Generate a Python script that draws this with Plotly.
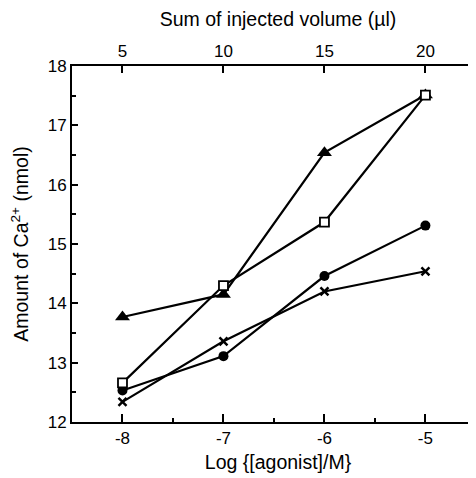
import plotly.graph_objects as go

log_conc = [-8, -7, -6, -5]
volume = [5, 10, 15, 20]
circle_vals = [12.53, 13.11, 14.46, 15.31]
cross_vals = [12.34, 13.36, 14.20, 14.54]
triangle_vals = [13.77, 14.15, 16.54, 17.51]
square_vals = [12.66, 14.30, 15.37, 17.51]

FONT = "Liberation Sans, Arial, Helvetica, sans-serif"
LW = 2.2
TICK = 17
TITLE = 19.5

fig = go.Figure()

fig.add_trace(go.Scatter(x=log_conc, y=circle_vals, mode="lines+markers",
                         line=dict(color="black", width=LW),
                         marker=dict(symbol="circle", size=10, color="black"),
                         showlegend=False))
fig.add_trace(go.Scatter(x=log_conc, y=cross_vals, mode="lines+markers",
                         line=dict(color="black", width=LW),
                         marker=dict(symbol="x-thin", size=8, color="black",
                                     line=dict(color="black", width=2.5)),
                         showlegend=False))
fig.add_trace(go.Scatter(x=log_conc, y=triangle_vals, mode="lines+markers",
                         line=dict(color="black", width=LW),
                         marker=dict(symbol="triangle-up", size=13, color="black"),
                         showlegend=False))
fig.add_trace(go.Scatter(x=log_conc, y=square_vals, mode="lines+markers",
                         line=dict(color="black", width=LW),
                         marker=dict(symbol="square", size=9, color="white",
                                     line=dict(color="black", width=1.8)),
                         showlegend=False))
# invisible trace tying the top axis (injected volume) to the data
fig.add_trace(go.Scatter(x=volume, y=[None] * len(volume), xaxis="x2",
                         mode="markers", marker=dict(opacity=0),
                         showlegend=False, hoverinfo="skip"))

fig.update_layout(
    width=476, height=478,
    margin=dict(l=64, r=0, t=58, b=64, autoexpand=False),
    paper_bgcolor="white", plot_bgcolor="white",
    font=dict(family=FONT, size=TICK, color="black"),
    xaxis=dict(
        range=[-8.5, -4.42], tickvals=[-8, -7, -6, -5],
        ticktext=["-8", "-7", "-6", "-5"],
        ticks="inside", ticklen=8, tickwidth=1.5, tickcolor="black",
        minor=dict(tickvals=[-7.5, -6.5, -5.5], ticks="inside", ticklen=4,
                   tickwidth=1.5, tickcolor="black"),
        showline=True, linecolor="black", linewidth=2,
        showgrid=False, zeroline=False, automargin=False,
        tickfont=dict(size=TICK),
        title=dict(text="Log {[agonist]/M}", font=dict(size=TITLE), standoff=8),
    ),
    xaxis2=dict(
        overlaying="x", side="top", range=[2.5, 22.9],
        tickvals=[5, 10, 15, 20],
        ticks="inside", ticklen=7, tickwidth=1.5, tickcolor="black",
        showline=True, linecolor="black", linewidth=2,
        showgrid=False, zeroline=False, automargin=False,
        tickfont=dict(size=TICK),
        title=dict(text="Sum of injected volume (µl)", font=dict(size=TITLE), standoff=10),
    ),
    yaxis=dict(
        range=[12, 18], tickvals=[12, 13, 14, 15, 16, 17, 18],
        ticks="inside", ticklen=6, tickwidth=1.5, tickcolor="black",
        minor=dict(tickvals=[12.5, 13.5, 14.5, 15.5, 16.5, 17.5], ticks="inside",
                   ticklen=4, tickwidth=1.5, tickcolor="black"),
        showline=True, linecolor="black", linewidth=2,
        showgrid=False, zeroline=False, automargin=False,
        tickfont=dict(size=TICK),
        title=dict(text="Amount of Ca<sup>2+</sup> (nmol)", font=dict(size=TITLE), standoff=14),
    ),
)

fig.write_html("out.html")
